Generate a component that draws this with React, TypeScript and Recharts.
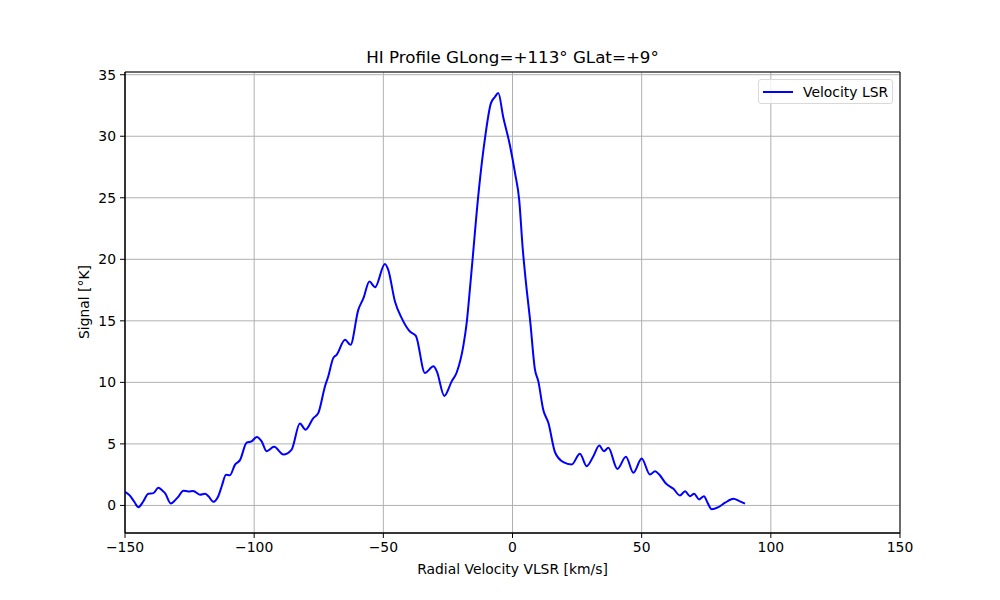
import { LineChart, Line, XAxis, YAxis, CartesianGrid, ReferenceArea } from "recharts";

// Radial velocity (km/s) and HI signal (°K)
const velocities = [
  -150, -148.1, -146.4, -144.8, -143, -141, -139, -137.1, -135.5, -134.5, -132.3, -130.5, -129.4, -127.4,
  -125.5, -123.6, -121, -119, -117.7, -115.8, -113.9, -112.5, -110.9, -109.4, -107.4, -105.5, -102.9, -101,
  -99, -97.1, -95.2, -92.3, -88.7, -85.5, -82.3, -80.1, -77.1, -75.2, -72.6, -71.3, -69.4, -68.1,
  -64.8, -62.7, -59.7, -57.7, -55.4, -53.2, -49.4, -48.1, -45.5, -42.9, -39.7, -37.4, -33.9, -30.6,
  -29.3, -26.4, -23.5, -21.6, -19, -17.7, -16.4, -15.2, -13.9, -11.9, -10.4, -8.4, -6.8, -5.5,
  -3.6, -1, 1, 2.6, 3.9, 5.5, 6.8, 8.7, 10, 11.9, 13.9, 16.5, 19.7, 22.9,
  26.1, 28.7, 31.3, 33.6, 35.4, 37.1, 40.6, 43.9, 46.8, 50, 53.2, 55.2, 56.8, 59.4,
  62.3, 64.8, 66.8, 68.7, 70.3, 72.2, 74.1, 75.5, 77.1, 79.7, 82.3, 85.5, 87.8, 90,
];
const signal = [
  1.1, 0.8, 0.3, -0.14, 0.3, 0.95, 1.0, 1.43, 1.2, 1.0, 0.16, 0.45, 0.7, 1.2,
  1.14, 1.18, 0.87, 0.95, 0.75, 0.3, 0.75, 1.6, 2.5, 2.46, 3.32, 3.68, 5.1, 5.2,
  5.57, 5.2, 4.41, 4.76, 4.14, 4.54, 6.65, 6.16, 7.1, 7.5, 9.67, 10.5, 11.97, 12.24,
  13.46, 13.05, 15.89, 16.84, 18.19, 17.73, 19.62, 19.14, 16.57, 15.22, 14.13, 13.78, 10.76, 11.3,
  10.89, 8.9, 10.1, 10.8, 13.0, 14.9, 17.78, 20.6, 23.73, 27.79, 30.22, 32.65, 33.19, 33.51,
  31.57, 29.27, 26.98, 24.81, 21.02, 17.51, 15.08, 11.03, 10.08, 7.78, 6.7, 4.3, 3.51, 3.32,
  4.2, 3.19, 4.0, 4.86, 4.41, 4.68, 2.97, 3.95, 2.65, 3.81, 2.51, 2.78, 2.51, 1.78,
  1.35, 0.81, 1.16, 0.75, 0.95, 0.49, 0.75, 0.22, -0.32, -0.14, 0.22, 0.54, 0.35, 0.14,
];
const xTicks = [-150, -100, -50, 0, 50, 100, 150];
const yTicks = [0, 5, 10, 15, 20, 25, 30, 35];

const X_DOMAIN: [number, number] = [-150, 150];
const Y_DOMAIN: [number, number] = [-2.24, 35.22];
const FONT = "'DejaVu Sans', sans-serif";

const fmtTick = (n: number) => String(n).replace("-", "\u2212");

export default function App() {
  const data = velocities.map((v, i) => ({ v, s: signal[i] }));

  return (
    <div style={{ position: "absolute", left: 0, top: 0, width: 1000, height: 600, background: "#fff", fontFamily: FONT }}>
      {/* Title */}
      <div style={{ position: "absolute", top: 47, left: 125, width: 775, textAlign: "center", fontSize: 16.7, color: "#000" }}>
        HI Profile GLong=+113° GLat=+9°
      </div>
      {/* Y label */}
      <div style={{ position: "absolute", left: 84, top: 302, transform: "translate(-50%, -50%) rotate(-90deg)", whiteSpace: "nowrap", fontSize: 13.9, color: "#000" }}>
        Signal [°K]
      </div>
      {/* X label */}
      <div style={{ position: "absolute", top: 561, left: 125, width: 775, textAlign: "center", fontSize: 13.9, color: "#000" }}>
        Radial Velocity VLSR [km/s]
      </div>

      <LineChart width={1000} height={600} data={data} margin={{ top: 72, right: 100, bottom: 22, left: 65 }}>
        <CartesianGrid stroke="#b0b0b0" strokeWidth={1} />
        <XAxis
          dataKey="v"
          type="number"
          domain={X_DOMAIN}
          ticks={xTicks}
          allowDataOverflow
          height={45}
          tickFormatter={fmtTick}
          tick={{ fontSize: 13.9, fill: "#000", fontFamily: FONT }}
          tickSize={5}
          tickMargin={4}
          stroke="#000"
          axisLine={{ stroke: "#000", strokeWidth: 1 }}
        />
        <YAxis
          type="number"
          domain={Y_DOMAIN}
          ticks={yTicks}
          allowDataOverflow
          width={60}
          tickFormatter={fmtTick}
          tick={{ fontSize: 13.9, fill: "#000", fontFamily: FONT }}
          tickSize={5}
          tickMargin={4}
          stroke="#000"
          axisLine={{ stroke: "#000", strokeWidth: 1 }}
        />
        <Line type="monotone" dataKey="s" name="Velocity LSR" stroke="#0000ff" strokeWidth={2} dot={false} activeDot={false} isAnimationActive={false} />
        <ReferenceArea x1={X_DOMAIN[0]} x2={X_DOMAIN[1]} y1={Y_DOMAIN[0]} y2={Y_DOMAIN[1]} fill="none" stroke="#000" strokeWidth={1} />
      </LineChart>

      {/* Legend */}
      <div style={{ position: "absolute", top: 79, left: 758, boxSizing: "border-box", width: 135, height: 25, border: "1px solid #d9d9d9", borderRadius: 3, background: "rgba(255,255,255,0.8)", display: "flex", alignItems: "center", fontSize: 13.9 }}>
        <div style={{ width: 30, height: 2, background: "#0000ff", marginLeft: 4, marginRight: 10 }} />
        <span style={{ color: "#000" }}>Velocity LSR</span>
      </div>
    </div>
  );
}
